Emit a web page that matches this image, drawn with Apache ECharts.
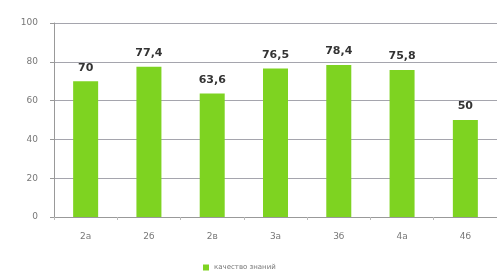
<!DOCTYPE html>
<html>
<head>
<meta charset="utf-8">
<script src="https://cdn.jsdelivr.net/npm/echarts@6/dist/echarts.min.js"></script>
<style>
  html, body { margin: 0; padding: 0; background: #fff; }
  #chart { width: 497px; height: 271px; }
</style>
</head>
<body>
<div id="chart"></div>
<script>
// классы и качество знаний (%)
var classes = ["2а", "2б", "2в", "3а", "3б", "4а", "4б"];
var quality = [70, 77.4, 63.6, 76.5, 78.4, 75.8, 50];
var yTicks = [0, 20, 40, 60, 80, 100];

var chart = echarts.init(document.getElementById("chart"));
var option = {
  animation: false,
  grid: { left: 54, width: 449, top: 23, bottom: 54 },
  legend: {
    data: ["качество знаний"],
    left: 198,
    top: 259,
    itemWidth: 6,
    itemHeight: 6,
    itemGap: 4,
    icon: "rect",
    textStyle: { fontSize: 7, color: "#777", fontFamily: "DejaVu Sans" },
  },
  xAxis: {
    type: "category",
    data: classes,
    axisLine: { lineStyle: { color: "#999" } },
    axisTick: { show: true, length: 3, lineStyle: { color: "#bbb" } },
    axisLabel: { color: "#777", fontSize: 9, margin: 15, fontFamily: "DejaVu Sans" },
  },
  yAxis: {
    type: "value",
    min: yTicks[0],
    max: yTicks[yTicks.length - 1],
    interval: 20,
    axisLine: { show: true, lineStyle: { color: "#999" } },
    axisTick: { show: true, length: 4, lineStyle: { color: "#999" } },
    axisLabel: { color: "#777", fontSize: 9, margin: 16, fontFamily: "DejaVu Sans" },
    splitLine: { lineStyle: { color: "#a5a5ad" } },
  },
  series: [
    {
      name: "качество знаний",
      type: "bar",
      data: quality,
      barWidth: 25,
      itemStyle: { color: "#7ed321" },
      label: {
        show: true,
        position: "top",
        distance: 8,
        color: "#333",
        fontSize: 11,
        fontWeight: "bold",
        fontFamily: "DejaVu Sans",
        formatter: function (p) {
          return String(p.value).replace(".", ",");
        },
      },
    },
  ],
};
chart.setOption(option);
</script>
</body>
</html>
